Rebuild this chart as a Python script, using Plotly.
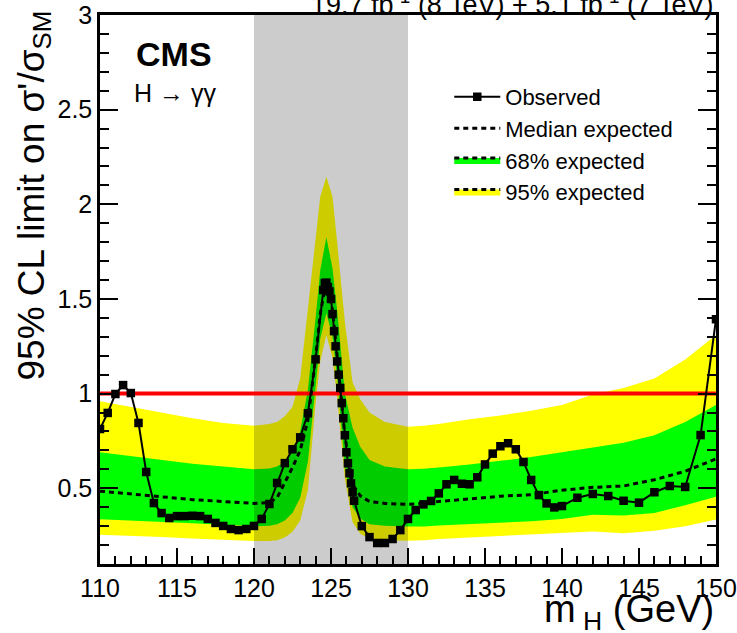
import plotly.graph_objects as go

# ---------------- data ----------------
obs_mass = [110, 110.5, 111, 111.5, 112, 112.5, 113, 113.5, 114, 114.5, 115, 115.5, 116, 116.5,
            117, 117.5, 118, 118.5, 119, 119.5, 120, 120.5, 121, 121.5, 122, 122.5, 123, 123.5, 124,
            124.5, 124.6, 124.7, 124.8, 124.9, 125.0, 125.1, 125.2, 125.3, 125.4, 125.5, 125.6,
            125.7, 125.8, 125.9, 126.0, 126.1, 126.2, 126.3, 126.4, 126.5,
            127, 127.5, 128, 128.5, 129, 129.5, 130, 130.5, 131, 131.5, 132, 132.5, 133, 133.5,
            134, 134.5, 135, 135.5, 136, 136.5, 137, 137.5, 138, 138.5, 139, 139.5, 140,
            141, 142, 143, 144, 145, 146, 147, 148, 149, 150]
obs_limit = [0.813, 0.898, 0.998, 1.045, 1.003, 0.845, 0.586, 0.422, 0.369, 0.343, 0.353, 0.353,
             0.355, 0.353, 0.338, 0.317, 0.301, 0.285, 0.279, 0.285, 0.301, 0.338, 0.417, 0.528,
             0.633, 0.706, 0.769, 0.896, 1.181,
             1.547, 1.584, 1.586, 1.563, 1.54, 1.50, 1.42, 1.33, 1.25, 1.17, 1.10, 1.03,
             0.95, 0.87, 0.78, 0.69, 0.632, 0.579, 0.526, 0.479, 0.434,
             0.30, 0.242, 0.211, 0.211, 0.232, 0.279, 0.338, 0.385, 0.415, 0.433, 0.473, 0.521,
             0.544, 0.524, 0.521, 0.558, 0.626, 0.683, 0.722, 0.738, 0.706, 0.639, 0.544, 0.464,
             0.420, 0.399, 0.406,
             0.45, 0.470, 0.459, 0.434, 0.424, 0.479, 0.512, 0.507, 0.781, 1.393]

exp_mass = [110, 112, 114, 116, 118, 120,
            121, 121.5, 122, 122.5, 123, 123.5, 124, 124.3, 124.7,
            125.1, 125.4, 125.9, 126.4, 126.9, 127.5, 128.5, 130,
            131, 132, 134, 136, 138, 140, 142, 144, 146, 148, 150]
exp_median = [0.485, 0.47, 0.455, 0.44, 0.43, 0.42,
              0.425, 0.45, 0.53, 0.61, 0.70, 0.86, 1.19, 1.42, 1.60,
              1.44, 1.20, 0.78, 0.52, 0.46, 0.43, 0.42, 0.415,
              0.42, 0.43, 0.445, 0.458, 0.466, 0.49, 0.505, 0.512, 0.545, 0.59, 0.655]
exp_68_lo = [0.336, 0.33, 0.322, 0.315, 0.307, 0.30,
             0.302, 0.31, 0.33, 0.37, 0.45, 0.64, 1.04, 1.29, 1.424,
             1.30, 1.08, 0.62, 0.40, 0.34, 0.31, 0.302, 0.298,
             0.298, 0.303, 0.31, 0.318, 0.326, 0.338, 0.36, 0.356, 0.37, 0.41, 0.455]
exp_68_hi = [0.69, 0.67, 0.65, 0.63, 0.615, 0.60,
             0.605, 0.615, 0.64, 0.70, 0.80, 1.02, 1.40, 1.65, 1.826,
             1.66, 1.44, 1.00, 0.82, 0.72, 0.65, 0.615, 0.60,
             0.603, 0.61, 0.625, 0.645, 0.665, 0.69, 0.715, 0.74, 0.78, 0.85, 0.94]
exp_95_lo = [0.255, 0.25, 0.242, 0.235, 0.228, 0.222,
             0.222, 0.225, 0.24, 0.27, 0.33, 0.49, 0.95, 1.17, 1.31,
             1.19, 0.98, 0.55, 0.32, 0.26, 0.235, 0.226, 0.223,
             0.225, 0.232, 0.24, 0.25, 0.258, 0.265, 0.272, 0.262, 0.275, 0.30, 0.335]
exp_95_hi = [0.96, 0.93, 0.90, 0.87, 0.845, 0.83,
             0.84, 0.85, 0.88, 0.93, 1.08, 1.45, 1.85, 2.04, 2.146,
             2.04, 1.80, 1.38, 1.06, 0.97, 0.90, 0.85, 0.825,
             0.83, 0.84, 0.865, 0.885, 0.91, 0.94, 0.995, 1.03, 1.08, 1.18, 1.31]

x_range = [110, 150]
y_range = [0.1, 3]
window = [120, 130]
sm_level = 1.0

x_ticks = [110, 115, 120, 125, 130, 135, 140, 145, 150]
y_ticks = [0.5, 1, 1.5, 2, 2.5, 3]

# ---------------- style ----------------
FONT = "Liberation Sans, Arial, Helvetica, sans-serif"
YELLOW = "#ffff00"
GREEN = "#00ff00"
DOT = "5px,4px"

fig = go.Figure()

# 95% band
fig.add_trace(go.Scatter(x=exp_mass, y=exp_95_lo, mode="lines", line=dict(width=0),
                         showlegend=False, hoverinfo="skip"))
fig.add_trace(go.Scatter(x=exp_mass, y=exp_95_hi, mode="lines", line=dict(width=0),
                         fill="tonexty", fillcolor=YELLOW, showlegend=False, hoverinfo="skip"))
# 68% band
fig.add_trace(go.Scatter(x=exp_mass, y=exp_68_lo, mode="lines", line=dict(width=0),
                         showlegend=False, hoverinfo="skip"))
fig.add_trace(go.Scatter(x=exp_mass, y=exp_68_hi, mode="lines", line=dict(width=0),
                         fill="tonexty", fillcolor=GREEN, showlegend=False, hoverinfo="skip"))

# grey signal window
fig.add_trace(go.Scatter(x=[window[0], window[1], window[1], window[0], window[0]],
                         y=[y_range[0], y_range[0], y_range[1], y_range[1], y_range[0]],
                         mode="lines", line=dict(width=0), fill="toself",
                         fillcolor="rgba(0,0,0,0.2)", showlegend=False, hoverinfo="skip"))

# SM line
fig.add_trace(go.Scatter(x=x_range, y=[sm_level, sm_level], mode="lines",
                         line=dict(color="#ff0000", width=4), showlegend=False))

# median expected
fig.add_trace(go.Scatter(x=exp_mass, y=exp_median, mode="lines",
                         line=dict(color="black", width=3, dash=DOT),
                         name="Median expected", legendrank=2))

# observed
fig.add_trace(go.Scatter(x=obs_mass, y=obs_limit, mode="lines+markers",
                         line=dict(color="black", width=2),
                         marker=dict(symbol="square", size=8.5, color="black"),
                         name="Observed", legendrank=1))

# legend-only entries for the bands
fig.add_trace(go.Scatter(x=[None], y=[None], mode="lines", fill="toself", fillcolor=GREEN,
                         line=dict(color="black", width=3, dash=DOT),
                         name="68% expected", legendrank=3))
fig.add_trace(go.Scatter(x=[None], y=[None], mode="lines", fill="toself", fillcolor=YELLOW,
                         line=dict(color="black", width=3, dash=DOT),
                         name="95% expected", legendrank=4))

fig.update_layout(
    width=737, height=633,
    margin=dict(l=100, r=21, t=15, b=69, autoexpand=False),
    paper_bgcolor="white", plot_bgcolor="white",
    font=dict(family=FONT, color="black"),
    legend=dict(x=0.567, y=0.889, xanchor="left", yanchor="top",
                bgcolor="rgba(0,0,0,0)", font=dict(size=22, family=FONT),
                itemwidth=46, traceorder="normal"),
    xaxis=dict(range=x_range, showgrid=False, zeroline=False, automargin=False,
               showline=True, linecolor="black", linewidth=2.5, mirror=True,
               ticks="inside", ticklen=16, tickwidth=2, tickcolor="black",
               tickvals=x_ticks, tickfont=dict(size=25, family=FONT),
               ticklabeloverflow="allow",
               minor=dict(ticks="inside", ticklen=8, tickwidth=1.5, dtick=1, tick0=110,
                          tickcolor="black")),
    yaxis=dict(range=y_range, showgrid=False, zeroline=False, automargin=False,
               showline=True, linecolor="black", linewidth=2.5, mirror="ticks",
               ticks="inside", ticklen=18, tickwidth=2, tickcolor="black",
               tickvals=y_ticks, tickfont=dict(size=25, family=FONT),
               ticklabeloverflow="allow",
               minor=dict(ticks="inside", ticklen=9, tickwidth=1.5, dtick=0.1, tick0=0,
                          tickcolor="black")),
    annotations=[
        dict(text="95% CL limit on σ'/σ<sub>SM</sub>", textangle=-90,
             xref="paper", yref="paper", x=-0.107, y=1.012, xanchor="center", yanchor="top",
             showarrow=False, font=dict(size=37, family=FONT)),
        dict(text="m<sub> H</sub> (GeV)", xref="paper", yref="paper", x=1.0, y=-0.088,
             xanchor="right", yanchor="middle", showarrow=False,
             font=dict(size=38, family=FONT)),
        dict(text="19.7 fb<sup>-1</sup> (8 TeV) + 5.1 fb<sup>-1</sup> (7 TeV)",
             xref="paper", yref="paper", x=1.0, y=0.987, xanchor="right", yanchor="bottom",
             showarrow=False, font=dict(size=27, family=FONT)),
        dict(text="<b>CMS</b>", xref="paper", yref="paper", x=0.056, y=0.929,
             xanchor="left", yanchor="middle", showarrow=False,
             font=dict(size=34, family=FONT)),
        dict(text="H → γγ", xref="paper", yref="paper", x=0.052, y=0.858,
             xanchor="left", yanchor="middle", showarrow=False,
             font=dict(size=25, family=FONT)),
    ],
)

fig.write_html("out.html")
